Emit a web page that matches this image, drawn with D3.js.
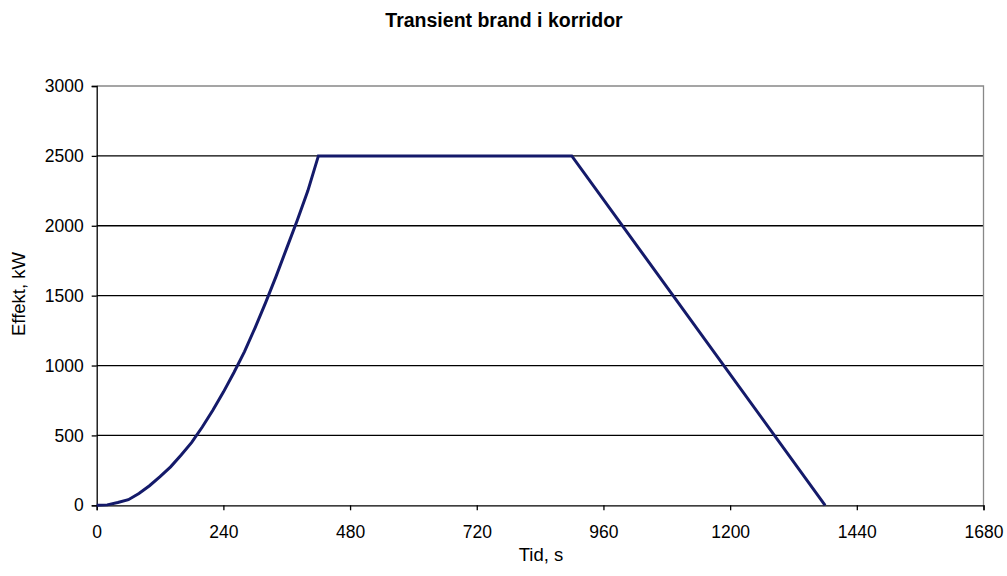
<!DOCTYPE html>
<html><head><meta charset="utf-8">
<script src="https://cdn.jsdelivr.net/npm/d3@7"></script>
<style>body{margin:0;background:#fff}svg{display:block;font-family:"Liberation Sans",Arial,sans-serif}</style>
</head><body>
<svg id="chart" width="1007" height="576"></svg>
<script>
const title = "Transient brand i korridor";
const xTitle = "Tid, s";
const yTitle = "Effekt, kW";
const times = [0, 20, 40, 60, 80, 100, 120, 140, 160, 180, 200, 220, 240, 260, 280, 300, 320, 340, 360, 380, 400, 420, 900, 1380];
const power = [0, 3, 20, 40, 85, 140, 205, 275, 360, 450, 560, 680, 810, 950, 1100, 1270, 1450, 1640, 1840, 2040, 2250, 2500, 2500, 0];
const xTicks = [0, 240, 480, 720, 960, 1200, 1440, 1680];
const yTicks = [0, 500, 1000, 1500, 2000, 2500, 3000];

const svg = d3.select("#chart");
const m = {l: 96.7, r: 983.5, t: 86, b: 505.3};
const x = d3.scaleLinear().domain([0, 1680]).range([m.l, m.r]);
const y = d3.scaleLinear().domain([0, 3000]).range([m.b, m.t]);

// gridlines
svg.append("g").selectAll("line").data(yTicks.filter(d => d > 0 && d < 3000)).join("line")
  .attr("x1", m.l).attr("x2", m.r).attr("y1", d => y(d)).attr("y2", d => y(d))
  .attr("stroke", "#000").attr("stroke-width", 1.3);
// top/right border
svg.append("path").attr("d", `M${m.l},${m.t}H${m.r}V${m.b}`).attr("fill", "none").attr("stroke", "#888").attr("stroke-width", 1.3);

// axes
const xAxis = svg.append("g").attr("transform", `translate(0,${m.b})`)
  .call(d3.axisBottom(x).tickValues(xTicks).tickSize(5).tickPadding(15).tickFormat(d3.format("d")));
const yAxis = svg.append("g").attr("transform", `translate(${m.l},0)`)
  .call(d3.axisLeft(y).tickValues(yTicks).tickSize(5).tickPadding(8).tickFormat(d3.format("d")));
[xAxis, yAxis].forEach(a => {
  a.select(".domain").attr("stroke", "#000").attr("stroke-width", 1.3);
  a.selectAll(".tick line").attr("stroke", "#000").attr("stroke-width", 1.3);
  a.selectAll("text").attr("font-size", 17.5).attr("fill", "#000").attr("font-family", "Liberation Sans, Arial, sans-serif");
});

// line
const data = times.map((t, i) => ({t, p: power[i]}));
svg.append("path").datum(data)
  .attr("d", d3.line().x(d => x(d.t)).y(d => y(d.p)))
  .attr("fill", "none").attr("stroke", "#141a6a").attr("stroke-width", 3).attr("stroke-linejoin", "miter");

// titles
svg.append("text").attr("x", 504).attr("y", 27).attr("text-anchor", "middle")
  .attr("font-size", 19.5).attr("font-weight", "bold").text(title);
svg.append("text").attr("x", 541).attr("y", 561).attr("text-anchor", "middle")
  .attr("font-size", 18.5).text(xTitle);
svg.append("text").attr("transform", `translate(25,294) rotate(-90)`).attr("text-anchor", "middle")
  .attr("font-size", 18.5).text(yTitle);
</script>
</body></html>
